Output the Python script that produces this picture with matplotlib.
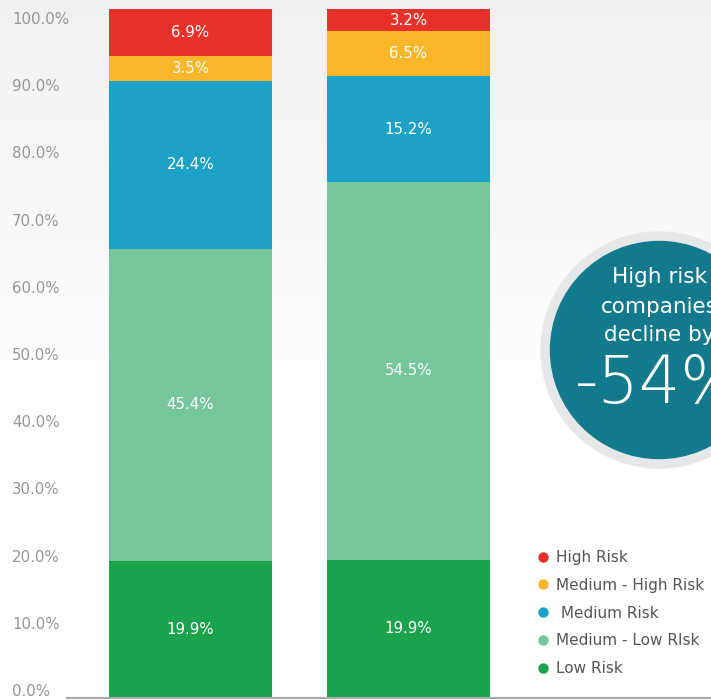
import numpy as np
import matplotlib
matplotlib.use("Agg")
import matplotlib.pyplot as plt
from matplotlib.lines import Line2D
from matplotlib.patches import Circle

# ---- data ----
periods = ["Period 1", "Period 2"]
risk_levels = ["Low Risk", "Medium - Low RIsk", " Medium Risk", "Medium - High Risk", "High Risk"]
low_risk = [19.9, 19.9]
medium_low_risk = [45.4, 54.5]
medium_risk = [24.4, 15.2]
medium_high_risk = [3.5, 6.5]
high_risk = [6.9, 3.2]
series = [low_risk, medium_low_risk, medium_risk, medium_high_risk, high_risk]
colors = ["#1aa34c", "#76c69b", "#1ea1c7", "#f8b72b", "#e8312a"]
y_ticks = [0, 10, 20, 30, 40, 50, 60, 70, 80, 90, 100]
callout_lines = ["High risk", "companies", "decline by"]
callout_value = "-54%"

W, H = 711, 700
fig = plt.figure(figsize=(W / 100, H / 100), dpi=100)

# background gradient
bg = fig.add_axes([0, 0, 1, 1], zorder=-10)
rows = np.arange(H)
vals = 0.943 + 0.057 * np.clip(rows / 420.0, 0, 1) ** 0.9
grad = np.repeat(vals[:, None], 2, axis=1)
rgb = np.dstack([grad, grad, grad])
bg.imshow(rgb, aspect="auto", extent=[0, 1, 0, 1], interpolation="bilinear")
bg.axis("off")

# main axes
left_px, right_px, bot_px, top_px = 67, 711, 698, 9
ax = fig.add_axes([left_px / W, (H - bot_px) / H, (right_px - left_px) / W, (bot_px - top_px) / H])
ax.set_facecolor("none")

x = np.arange(len(periods))
totals = np.sum(np.array(series), axis=0)
bottom = np.zeros(len(periods))
for vals_s, col in zip(series, colors):
    hts = np.array(vals_s) / totals * 100
    cont = ax.bar(x, hts, width=0.748, bottom=bottom, color=col, linewidth=0)
    ax.bar_label(cont, labels=[f"{v:.1f}%" for v in vals_s], label_type="center",
                 color="white", fontsize=10.8)
    bottom += hts

ax.set_xlim(-0.5665, 2.3876)
ax.set_ylim(0, 100)
for s in ["top", "right", "left"]:
    ax.spines[s].set_visible(False)
ax.spines["bottom"].set_color("#a8a8a8")
ax.spines["bottom"].set_linewidth(1.5)
ax.set_xticks([])
ax.set_yticks([])

# tick labels on a twin axis (label offsets as in the reference)
ax2 = ax.twinx()
ax2.yaxis.tick_left()
lo = -(698 - 690) / 6.72
hi = 100 + (18 - 9) / 6.72
ax2.set_ylim(lo, hi)
ax2.set_yticks(y_ticks)
ax2.set_yticklabels([f"{t:.1f}%" for t in y_ticks])
ax2.tick_params(axis="y", length=0, pad=(67 - 12) * 0.72, labelsize=10.8, labelcolor="#969696")
for lab in ax2.get_yticklabels():
    lab.set_horizontalalignment("left")
for s in ax2.spines.values():
    s.set_visible(False)

# legend
handles = [Line2D([0], [0], marker="o", linestyle="none", markersize=6.5,
                  markerfacecolor=c, markeredgecolor=c) for c in colors[::-1]]
leg = fig.legend(handles, risk_levels[::-1], loc="center left",
                 bbox_to_anchor=(537 / W, 1 - 613 / H), frameon=False,
                 fontsize=11, handlelength=0.8, handletextpad=0.45,
                 labelspacing=0.83, borderpad=0, borderaxespad=0)
for t in leg.get_texts():
    t.set_color("#555555")

# callout circle
cx, cy, R = 659, 350, 118
cax = fig.add_axes([(cx - R) / W, (H - cy - R) / H, 2 * R / W, 2 * R / H])
cax.set_xlim(-R, R)
cax.set_ylim(-R, R)
cax.axis("off")
cax.add_patch(Circle((0, 0), R, color="#e6e7e9", clip_on=False))
cax.add_patch(Circle((0, 0), 108.5, color="#127a8c", clip_on=False))
for txt, yy in zip(callout_lines, [73, 43, 15]):
    cax.text(0, yy, txt, ha="center", va="center", color="white", fontsize=15.5, clip_on=False)
cax.text(0, -35, callout_value, ha="center", va="center", color="white", fontsize=47,
         fontweight="light", clip_on=False)

fig.savefig("out.png", dpi=100)
